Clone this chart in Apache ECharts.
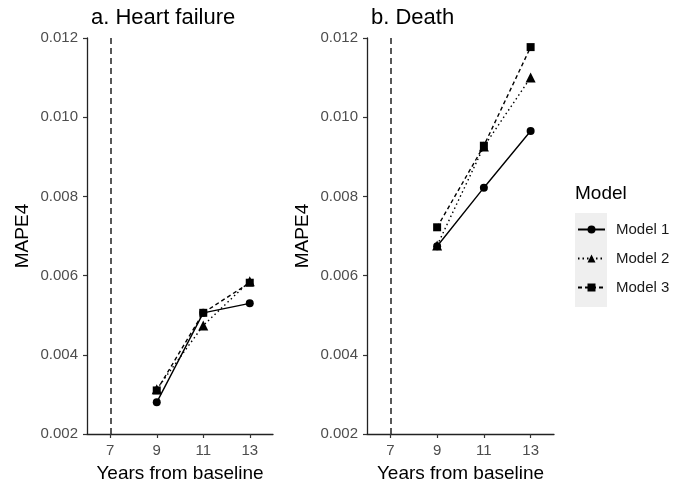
<!DOCTYPE html>
<html>
<head>
<meta charset="utf-8">
<script src="https://cdn.jsdelivr.net/npm/echarts@6/dist/echarts.min.js"></script>
<style>
  html, body { margin: 0; padding: 0; background: #fff; }
  #chart { width: 673px; height: 488px; }
</style>
</head>
<body>
<div id="chart"></div>
<script>
// 数据
var years = [9, 11, 13]
var xTicks = [7, 9, 11, 13]
var vlineX = 7
var modelNames = ['Model 1', 'Model 2', 'Model 3']
var panelTitles = ['a. Heart failure', 'b. Death']

var hfModel1 = [0.0028, 0.00506, 0.0053]
var hfModel2 = [0.00313, 0.00474, 0.00586]
var hfModel3 = [0.0031, 0.00506, 0.00582]

var deathModel1 = [0.00674, 0.00822, 0.00965]
var deathModel2 = [0.00676, 0.00926, 0.0110]
var deathModel3 = [0.00722, 0.00928, 0.01177]

var FONT = '"Liberation Sans", Arial, Helvetica, sans-serif'
var symbols = ['circle', 'triangle', 'rect']
var symbolSizes = [8, 10, 8]
var lineTypes = ['solid', [1.5, 3], [4, 3]]

var chart = echarts.init(document.getElementById('chart'))

function pairs(vals) {
  return years.map(function (y, i) { return [y, vals[i]] })
}

function xAxisFor(idx) {
  return {
    type: 'value', gridIndex: idx, min: 6, max: 14,
    name: 'Years from baseline', nameLocation: 'middle', nameGap: 30,
    nameTextStyle: { fontFamily: FONT, fontSize: 19, color: '#000' },
    axisLine: { lineStyle: { color: '#222', width: 1.3 } },
    axisTick: { customValues: xTicks, length: 4, lineStyle: { color: '#333', width: 1.2 } },
    axisLabel: { customValues: xTicks, margin: 9, fontFamily: FONT, fontSize: 15, color: '#4d4d4d' },
    splitLine: { show: false }
  }
}

function yAxisFor(idx) {
  return {
    type: 'value', gridIndex: idx, min: 0.002, max: 0.012, interval: 0.002,
    name: 'MAPE4', nameLocation: 'middle', nameGap: 55, nameRotate: 90,
    nameTextStyle: { fontFamily: FONT, fontSize: 19, color: '#000' },
    axisLine: { show: true, lineStyle: { color: '#222', width: 1.3 } },
    axisTick: { show: true, length: 4, lineStyle: { color: '#333', width: 1.2 } },
    axisLabel: {
      margin: 9, fontFamily: FONT, fontSize: 15, color: '#4d4d4d',
      formatter: function (v) { return v.toFixed(3) }
    },
    splitLine: { show: false }
  }
}

function seriesFor(idx, sets) {
  return sets.map(function (vals, k) {
    var s = {
      name: modelNames[k], type: 'line',
      xAxisIndex: idx, yAxisIndex: idx,
      data: pairs(vals),
      symbol: symbols[k], symbolSize: symbolSizes[k],
      itemStyle: { color: '#000' },
      lineStyle: { color: '#000', width: 1.4, type: lineTypes[k] },
      z: 3 + k
    }
    if (k === 0) {
      s.markLine = {
        silent: true, symbol: 'none', label: { show: false },
        lineStyle: { color: '#222', width: 1.5, type: [6, 4] },
        data: [{ xAxis: vlineX }]
      }
    }
    return s
  })
}

var option = {
  animation: false,
  backgroundColor: '#fff',
  title: [
    { text: panelTitles[0], left: 86, top: 2, textStyle: { fontFamily: FONT, fontSize: 22, fontWeight: 'normal', color: '#000' } },
    { text: panelTitles[1], left: 366, top: 2, textStyle: { fontFamily: FONT, fontSize: 22, fontWeight: 'normal', color: '#000' } }
  ],
  grid: [
    { left: 87, top: 38, width: 186, height: 399 },
    { left: 367, top: 38, width: 187, height: 399 }
  ],
  xAxis: [xAxisFor(0), xAxisFor(1)],
  yAxis: [yAxisFor(0), yAxisFor(1)],
  legend: {
    data: modelNames,
    orient: 'vertical', left: 577, top: 222, padding: 0,
    itemWidth: 27, itemHeight: 10, itemGap: 14,
    textStyle: { fontFamily: FONT, fontSize: 15, color: '#1a1a1a', padding: [0, 0, 0, 6] },
    z: 10
  },
  graphic: [
    { type: 'rect', left: 575, top: 213, shape: { width: 32, height: 94 }, style: { fill: '#efefef' }, z: 0 },
    { type: 'text', left: 575, top: 184, style: { text: 'Model', font: '19px ' + FONT, fill: '#000' } }
  ],
  series: seriesFor(0, [hfModel1, hfModel2, hfModel3]).concat(seriesFor(1, [deathModel1, deathModel2, deathModel3]))
}

chart.setOption(option)
</script>
</body>
</html>
